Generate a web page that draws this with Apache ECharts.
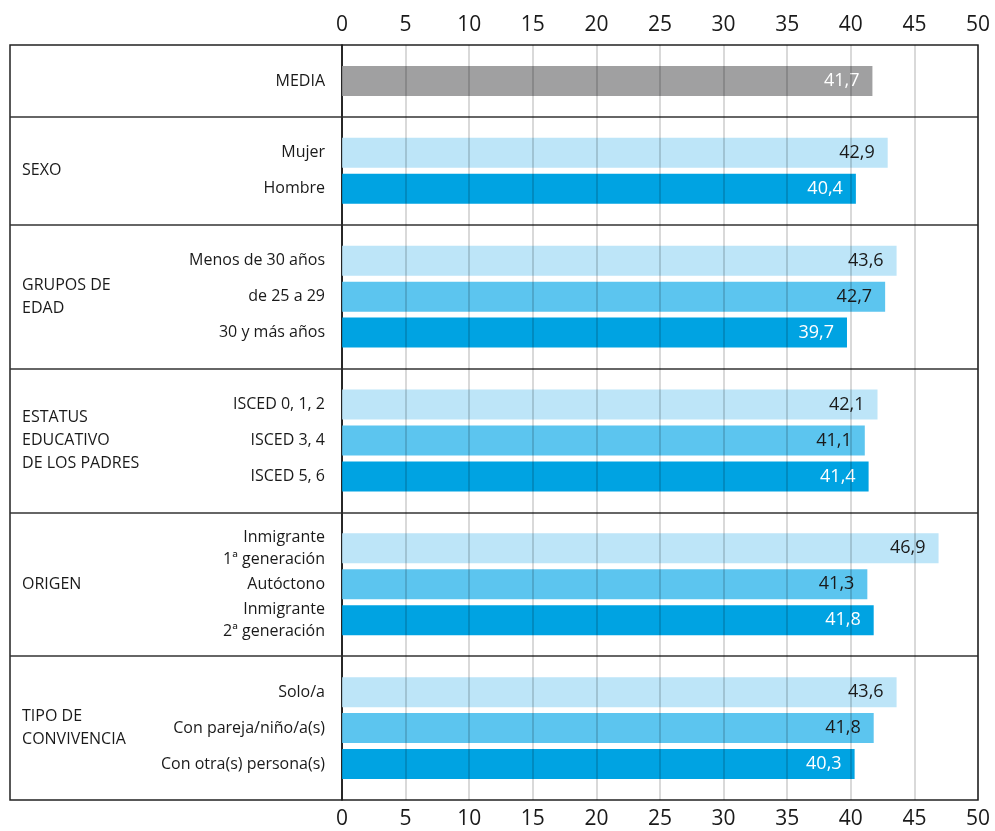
<!DOCTYPE html>
<html>
<head>
<meta charset="utf-8">
<title>Media por grupos</title>
<script src="https://cdn.jsdelivr.net/npm/echarts@6/dist/echarts.min.js"></script>
<style>
html, body { margin: 0; padding: 0; background: #fff; }
#chart { width: 995px; height: 831px; }
</style>
</head>
<body>
<div id="chart"></div>
<script>
// datos
var mediaName = 'MEDIA';
var mediaValue = 41.7;
var groupNames = ['SEXO', 'GRUPOS DE\nEDAD', 'ESTATUS\nEDUCATIVO\nDE LOS PADRES', 'ORIGEN', 'TIPO DE\nCONVIVENCIA'];
var groupItems = [
    ['Mujer', 'Hombre'],
    ['Menos de 30 años', 'de 25 a 29', '30 y más años'],
    ['ISCED 0, 1, 2', 'ISCED 3, 4', 'ISCED 5, 6'],
    ['Inmigrante\n1ª generación', 'Autóctono', 'Inmigrante\n2ª generación'],
    ['Solo/a', 'Con pareja/niño/a(s)', 'Con otra(s) persona(s)']
];
var groupValues = [
    [42.9, 40.4],
    [43.6, 42.7, 39.7],
    [42.1, 41.1, 41.4],
    [46.9, 41.3, 41.8],
    [43.6, 41.8, 40.3]
];

var colors = { media: '#a0a0a1', light: '#bde5f8', mid: '#5cc5ef', dark: '#00a3e2' };
var labelColors = { media: '#ffffff', light: '#1a1a1a', mid: '#1a1a1a', dark: '#ffffff' };
var font = 'Open Sans';

// filas: una vacia arriba, separadores entre grupos, una vacia abajo
var categories = [''];
var barData = ['-'];
var seps = [];
var groupPos = [];

function addBar(name, value, shade) {
    categories.push(name);
    barData.push({
        value: value,
        itemStyle: { color: colors[shade] },
        label: { color: labelColors[shade] }
    });
}

addBar(mediaName, mediaValue, 'media');
for (var g = 0; g < groupItems.length; g++) {
    seps.push(categories.length);
    categories.push('');
    barData.push('-');
    var shades = groupItems[g].length == 2 ? ['light', 'dark'] : ['light', 'mid', 'dark'];
    var first = categories.length;
    for (var i = 0; i < groupItems[g].length; i++) {
        addBar(groupItems[g][i], groupValues[g][i], shades[i]);
    }
    groupPos.push((first + categories.length - 1) / 2);
}
categories.push('');
barData.push('-');

var chart = echarts.init(document.getElementById('chart'));
var option = {
    animation: false,
    textStyle: { fontFamily: font },
    grid: [
        { left: 10, top: 45, width: 332, height: 755, show: true, borderColor: '#222', borderWidth: 1.5 },
        { left: 342, top: 45, width: 636, height: 755, show: true, borderColor: '#222', borderWidth: 1.5 }
    ],
    xAxis: [
        { gridIndex: 0, type: 'value', min: 0, max: 1, show: false },
        {
            gridIndex: 1, type: 'value', position: 'bottom', min: 0, max: 50, interval: 5, z: 10,
            axisLine: { show: false }, axisTick: { show: false },
            axisLabel: { fontSize: 21, color: '#1a1a1a', margin: 9, fontFamily: font },
            splitLine: { show: true, lineStyle: { color: 'rgba(0,0,0,0.2)', width: 1.5 } }
        },
        {
            gridIndex: 1, type: 'value', position: 'top', min: 0, max: 50, interval: 5,
            axisLine: { show: false }, axisTick: { show: false },
            axisLabel: { fontSize: 21, color: '#1a1a1a', margin: 9, fontFamily: font },
            splitLine: { show: false }
        }
    ],
    yAxis: [
        { gridIndex: 0, type: 'value', min: 0, max: categories.length - 1, inverse: true, show: false },
        {
            gridIndex: 1, type: 'category', data: categories, inverse: true, boundaryGap: false,
            axisLine: { show: false }, axisTick: { show: false },
            axisLabel: { interval: 0, fontSize: 16, color: '#1a1a1a', margin: 17, lineHeight: 22, fontFamily: font },
            splitLine: {
                show: true,
                interval: function (index) { return seps.indexOf(index) >= 0; },
                lineStyle: { color: '#333', width: 1.5 }
            }
        }
    ],
    series: [
        {
            name: 'grupos',
            type: 'scatter',
            xAxisIndex: 0,
            yAxisIndex: 0,
            symbolSize: 0.1,
            silent: true,
            itemStyle: { opacity: 1 },
            data: groupPos.map(function (p, k) { return { name: groupNames[k], value: [0, p] }; }),
            label: {
                show: true, position: 'right', distance: 12, formatter: '{b}',
                fontSize: 16, lineHeight: 23, color: '#1a1a1a', align: 'left', fontFamily: font
            },
            markLine: {
                silent: true,
                symbol: ['none', 'none'],
                label: { show: false },
                lineStyle: { color: '#333', width: 1.5, type: 'solid' },
                data: seps.map(function (s) { return { yAxis: s }; })
            }
        },
        {
            name: 'valor',
            type: 'bar',
            xAxisIndex: 1,
            yAxisIndex: 1,
            barWidth: 30,
            data: barData,
            label: {
                show: true,
                position: 'insideRight',
                distance: 13,
                fontSize: 18,
                fontFamily: font,
                formatter: function (p) { return p.value.toFixed(1).replace('.', ','); }
            }
        }
    ]
};
chart.setOption(option);
</script>
</body>
</html>
